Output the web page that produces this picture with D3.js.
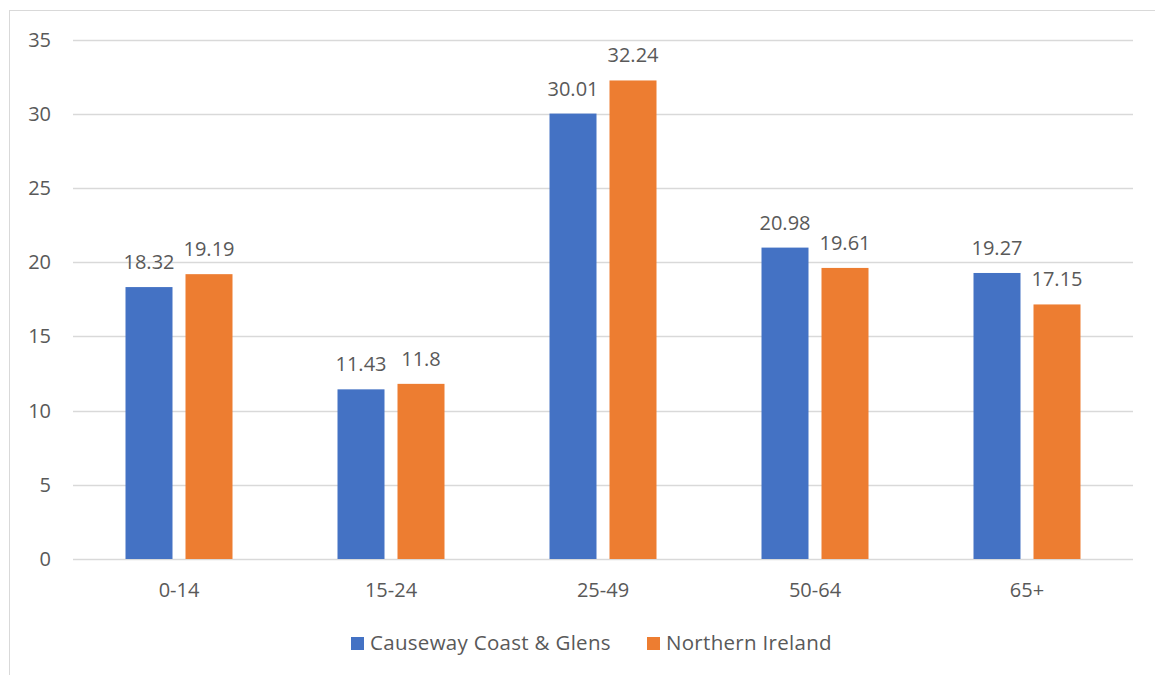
<!DOCTYPE html>
<html>
<head>
<meta charset="utf-8">
<script src="https://cdn.jsdelivr.net/npm/d3@7"></script>
<style>
  body { margin: 0; background: #fff; }
  svg text { font-family: "Open Sans", sans-serif; fill: #595959; }
</style>
</head>
<body>
<svg id="chart" width="1155" height="675"></svg>
<script>
const categories = ['0-14', '15-24', '25-49', '50-64', '65+'];
const seriesNames = ['Causeway Coast & Glens', 'Northern Ireland'];
const causeway = [18.32, 11.43, 30.01, 20.98, 19.27];
const northernIreland = [19.19, 11.8, 32.24, 19.61, 17.15];
const yTicks = [0, 5, 10, 15, 20, 25, 30, 35];
const colors = ['#4472C4', '#ED7D31'];

const svg = d3.select('#chart');

// outer chart border (only left/top visible in the frame)
svg.append('rect')
  .attr('x', 9.5).attr('y', 10.5)
  .attr('width', 1160).attr('height', 680)
  .attr('fill', 'none').attr('stroke', '#d9d9d9');

const plotL = 73, plotR = 1133, plotT = 39.5, plotB = 559;

const x = d3.scaleBand().domain(categories).range([plotL, plotR]);
const xs = d3.scaleBand().domain(seriesNames).range([0, 107]).paddingInner(13 / 60);
const y = d3.scaleLinear().domain([0, 35]).range([plotB, plotT]);

// gridlines
svg.append('g').selectAll('line').data(yTicks).join('line')
  .attr('x1', plotL).attr('x2', plotR)
  .attr('y1', d => Math.round(y(d)) + 0.5).attr('y2', d => Math.round(y(d)) + 0.5)
  .attr('stroke', '#d9d9d9').attr('stroke-width', 1.3);

// y tick labels
svg.append('g').selectAll('text').data(yTicks).join('text')
  .attr('x', 51).attr('y', d => y(d) + 7)
  .attr('text-anchor', 'end')
  .style('font-size', '20px')
  .text(d => d);

const series = [causeway, northernIreland];
series.forEach((vals, si) => {
  const g = svg.append('g');
  const off = d => x(d) + x.bandwidth() / 2 - 53.5 + xs(seriesNames[si]);
  g.selectAll('rect').data(categories).join('rect')
    .attr('x', off)
    .attr('y', (d, i) => y(vals[i]))
    .attr('width', xs.bandwidth())
    .attr('height', (d, i) => y(0) - y(vals[i]))
    .attr('fill', colors[si]);
  g.selectAll('text').data(categories).join('text')
    .attr('x', d => off(d) + xs.bandwidth() / 2)
    .attr('y', (d, i) => y(vals[i]) - 18)
    .attr('text-anchor', 'middle')
    .style('font-size', '20px')
    .text((d, i) => vals[i]);
});

// x axis labels
svg.append('g').selectAll('text').data(categories).join('text')
  .attr('x', d => x(d) + x.bandwidth() / 2)
  .attr('y', 597)
  .attr('text-anchor', 'middle')
  .style('font-size', '20px')
  .text(d => d);

// legend
const legendX = [351, 647];
const lg = svg.append('g');
seriesNames.forEach((name, i) => {
  lg.append('rect')
    .attr('x', legendX[i]).attr('y', 637)
    .attr('width', 13).attr('height', 13)
    .attr('fill', colors[i]);
  lg.append('text')
    .attr('x', legendX[i] + 19).attr('y', 650)
    .style('font-size', '20.5px')
    .style('letter-spacing', '0.3px')
    .text(name);
});
</script>
</body>
</html>
